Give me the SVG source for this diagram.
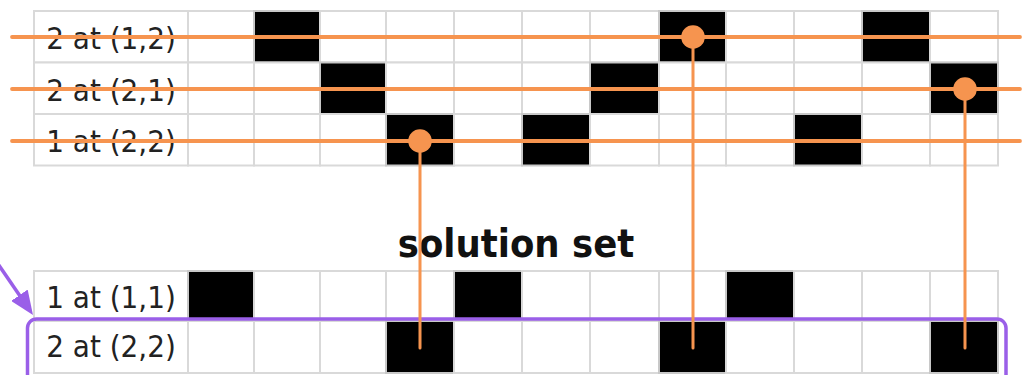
<svg xmlns="http://www.w3.org/2000/svg" width="1024" height="375" viewBox="0 0 1024 375">
  <defs>
    <style>
      .cell{fill:#fff;stroke:#d9d9d9;stroke-width:2}
      .on{fill:#000;stroke:#c8c8c8;stroke-width:2}
      .lbl{font-family:"DejaVu Sans Condensed","DejaVu Sans",sans-serif;font-size:31px;fill:#222;text-anchor:middle}
      .title{font-family:"DejaVu Sans Condensed","DejaVu Sans",sans-serif;font-size:39.5px;font-weight:bold;fill:#111;text-anchor:middle}
      .trace{stroke:#f6944f;stroke-linecap:round;fill:none}
      .dot{fill:#f6944f}
      .pick{stroke:#9a5fe8;stroke-width:3.5;fill:none}
    </style>
    <marker id="arrowHead" markerUnits="userSpaceOnUse" markerWidth="24" markerHeight="20" refX="12" refY="10" orient="auto">
      <path d="M0,0 L24,10 L0,20 z" fill="#9a5fe8"/>
    </marker>
  </defs>
  <rect width="1024" height="375" fill="#fff"/>

  <!-- candidate rows -->
  <g id="row-2-at-1-2">
    <rect class="cell" x="34" y="11" width="154" height="51.5"/>
    <rect class="cell" x="188" y="11" width="66" height="51.5"/>
    <rect class="on" x="254" y="11" width="66" height="51.5"/>
    <rect class="cell" x="320" y="11" width="66" height="51.5"/>
    <rect class="cell" x="386" y="11" width="68" height="51.5"/>
    <rect class="cell" x="454" y="11" width="68" height="51.5"/>
    <rect class="cell" x="522" y="11" width="68" height="51.5"/>
    <rect class="cell" x="590" y="11" width="69" height="51.5"/>
    <rect class="on" x="659" y="11" width="67" height="51.5"/>
    <rect class="cell" x="726" y="11" width="68" height="51.5"/>
    <rect class="cell" x="794" y="11" width="68" height="51.5"/>
    <rect class="on" x="862" y="11" width="68" height="51.5"/>
    <rect class="cell" x="930" y="11" width="68" height="51.5"/>
    <text class="lbl" x="111" y="49">2 at (1,2)</text>
  </g>
  <g id="row-2-at-2-1">
    <rect class="cell" x="34" y="62.5" width="154" height="51.5"/>
    <rect class="cell" x="188" y="62.5" width="66" height="51.5"/>
    <rect class="cell" x="254" y="62.5" width="66" height="51.5"/>
    <rect class="on" x="320" y="62.5" width="66" height="51.5"/>
    <rect class="cell" x="386" y="62.5" width="68" height="51.5"/>
    <rect class="cell" x="454" y="62.5" width="68" height="51.5"/>
    <rect class="cell" x="522" y="62.5" width="68" height="51.5"/>
    <rect class="on" x="590" y="62.5" width="69" height="51.5"/>
    <rect class="cell" x="659" y="62.5" width="67" height="51.5"/>
    <rect class="cell" x="726" y="62.5" width="68" height="51.5"/>
    <rect class="cell" x="794" y="62.5" width="68" height="51.5"/>
    <rect class="cell" x="862" y="62.5" width="68" height="51.5"/>
    <rect class="on" x="930" y="62.5" width="68" height="51.5"/>
    <text class="lbl" x="111" y="100.5">2 at (2,1)</text>
  </g>
  <g id="row-1-at-2-2">
    <rect class="cell" x="34" y="114" width="154" height="51.5"/>
    <rect class="cell" x="188" y="114" width="66" height="51.5"/>
    <rect class="cell" x="254" y="114" width="66" height="51.5"/>
    <rect class="cell" x="320" y="114" width="66" height="51.5"/>
    <rect class="on" x="386" y="114" width="68" height="51.5"/>
    <rect class="cell" x="454" y="114" width="68" height="51.5"/>
    <rect class="on" x="522" y="114" width="68" height="51.5"/>
    <rect class="cell" x="590" y="114" width="69" height="51.5"/>
    <rect class="cell" x="659" y="114" width="67" height="51.5"/>
    <rect class="cell" x="726" y="114" width="68" height="51.5"/>
    <rect class="on" x="794" y="114" width="68" height="51.5"/>
    <rect class="cell" x="862" y="114" width="68" height="51.5"/>
    <rect class="cell" x="930" y="114" width="68" height="51.5"/>
    <text class="lbl" x="111" y="152">1 at (2,2)</text>
  </g>

  <g id="title">
    <text class="title" x="516" y="257">solution set</text>
  </g>

  <!-- solution rows -->
  <g id="sol-1-at-1-1">
    <rect class="cell" x="34" y="271" width="154" height="50"/>
    <rect class="on" x="188" y="271" width="66" height="50"/>
    <rect class="cell" x="254" y="271" width="66" height="50"/>
    <rect class="cell" x="320" y="271" width="66" height="50"/>
    <rect class="cell" x="386" y="271" width="68" height="50"/>
    <rect class="on" x="454" y="271" width="68" height="50"/>
    <rect class="cell" x="522" y="271" width="68" height="50"/>
    <rect class="cell" x="590" y="271" width="69" height="50"/>
    <rect class="cell" x="659" y="271" width="67" height="50"/>
    <rect class="on" x="726" y="271" width="68" height="50"/>
    <rect class="cell" x="794" y="271" width="68" height="50"/>
    <rect class="cell" x="862" y="271" width="68" height="50"/>
    <rect class="cell" x="930" y="271" width="68" height="50"/>
    <text class="lbl" x="111" y="308">1 at (1,1)</text>
  </g>
  <g id="sol-2-at-2-2">
    <rect class="cell" x="34" y="321" width="154" height="52"/>
    <rect class="cell" x="188" y="321" width="66" height="52"/>
    <rect class="cell" x="254" y="321" width="66" height="52"/>
    <rect class="cell" x="320" y="321" width="66" height="52"/>
    <rect class="on" x="386" y="321" width="68" height="52"/>
    <rect class="cell" x="454" y="321" width="68" height="52"/>
    <rect class="cell" x="522" y="321" width="68" height="52"/>
    <rect class="cell" x="590" y="321" width="69" height="52"/>
    <rect class="on" x="659" y="321" width="67" height="52"/>
    <rect class="cell" x="726" y="321" width="68" height="52"/>
    <rect class="cell" x="794" y="321" width="68" height="52"/>
    <rect class="cell" x="862" y="321" width="68" height="52"/>
    <rect class="on" x="930" y="321" width="68" height="52"/>
    <text class="lbl" x="111" y="357">2 at (2,2)</text>
  </g>

  <!-- highlight around the chosen row -->
  <g id="highlight">
    <rect class="pick" x="27.5" y="319" width="978.5" height="70" rx="9"/>
  </g>

  <g id="connectors">
    <line class="pick" x1="-2" y1="264" x2="26.2" y2="305.1" stroke-width="4" marker-end="url(#arrowHead)"/>
    <line class="trace" stroke-width="3.8" x1="12" y1="37" x2="1020" y2="37"/>
    <line class="trace" stroke-width="3.8" x1="12" y1="89" x2="1020" y2="89"/>
    <line class="trace" stroke-width="3.8" x1="12" y1="141" x2="1020" y2="141"/>
    <line class="trace" stroke-width="3" x1="420" y1="141" x2="420" y2="348"/>
    <line class="trace" stroke-width="3" x1="693" y1="37" x2="693" y2="348"/>
    <line class="trace" stroke-width="3" x1="965" y1="89" x2="965" y2="348"/>
    <circle class="dot" cx="420" cy="141" r="11.8"/>
    <circle class="dot" cx="693" cy="37" r="11.8"/>
    <circle class="dot" cx="965" cy="89" r="11.8"/>
  </g>
</svg>
